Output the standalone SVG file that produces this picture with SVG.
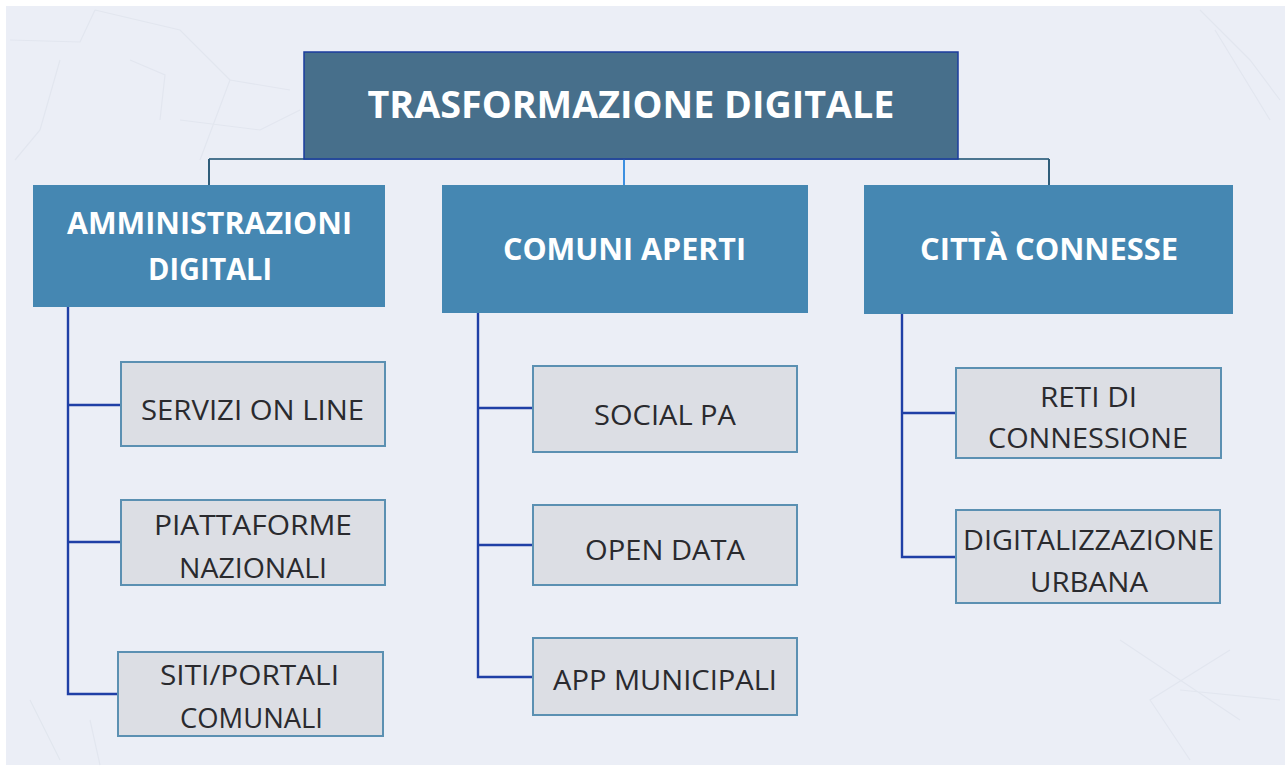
<svg xmlns="http://www.w3.org/2000/svg" width="1288" height="769" viewBox="0 0 1288 769">
<style>
.bg{fill:#ebeef6}
.top{fill:#476f8b;stroke:#1b3c9e;stroke-width:1.5}
.l2{fill:#4587b2}
.leaf{fill:#dcdee4;stroke:#5b90b2;stroke-width:2}
.t{font-family:"Open Sans","Liberation Sans",sans-serif;text-anchor:middle}
.th{fill:#ffffff;font-weight:700}
.tl{fill:#2a2a2e;font-weight:400;font-size:28px}
.c{fill:none;stroke:#1f3fa6;stroke-width:2.4}
.map{fill:none;stroke:#e2e6ef;stroke-width:1.2}
</style>
<rect x="0" y="0" width="1288" height="769" fill="#ffffff"/>
<rect class="bg" x="6" y="6" width="1279" height="759"/>
<g id="background-map">
<path class="map" d="M10 40 L80 42 L95 10 M60 60 L40 130 L15 160 M95 10 L180 30 L230 80 L200 160 M130 60 L165 75 L160 120 M180 120 L260 130 L300 110 M230 80 L290 90 M1200 10 L1250 60 L1280 100 M1215 30 L1270 120 M1230 650 L1150 700 L1190 760 M1120 640 L1240 720 M1180 690 L1280 700 M30 700 L60 760 M90 720 L100 765"/>
</g>
<g id="connectors">
<path d="M209 159 H1049" fill="none" stroke="#4b7590" stroke-width="2"/>
<path d="M209 159 V185" fill="none" stroke="#2f5d7a" stroke-width="2"/>
<path d="M1049 159 V185" fill="none" stroke="#2f5d7a" stroke-width="2"/>
<path d="M624 159 V185" fill="none" stroke="#3d8fe0" stroke-width="2"/>
<path class="c" d="M68 307 V694 H118 M68 405 H121 M68 542 H121"/>
<path class="c" d="M478 313 V677 H533 M478 408 H533 M478 545 H533"/>
<path class="c" d="M902 314 V557 H956 M902 413 H956"/>
</g>
<g id="n-root">
<rect class="top" x="304" y="52" width="654" height="107"/>
<text class="t th" x="631" y="118" font-size="38" textLength="527" lengthAdjust="spacingAndGlyphs">TRASFORMAZIONE DIGITALE</text>
</g>
<g id="n-amministrazioni">
<rect class="l2" x="33" y="185" width="352" height="122"/>
<text class="t th" x="209.5" y="234" font-size="30" textLength="285" lengthAdjust="spacingAndGlyphs">AMMINISTRAZIONI</text>
<text class="t th" x="210" y="280" font-size="30" textLength="124" lengthAdjust="spacingAndGlyphs">DIGITALI</text>
</g>
<g id="n-comuni">
<rect class="l2" x="442" y="185" width="366" height="128"/>
<text class="t th" x="624.5" y="260" font-size="30" textLength="243" lengthAdjust="spacingAndGlyphs">COMUNI APERTI</text>
</g>
<g id="n-citta">
<rect class="l2" x="864" y="185" width="369" height="129"/>
<text class="t th" x="1049" y="260" font-size="30" textLength="258" lengthAdjust="spacingAndGlyphs">CITTÀ CONNESSE</text>
</g>
<g id="n-servizi">
<rect class="leaf" x="121" y="362" width="264" height="84"/>
<text class="t tl" x="252.5" y="420" textLength="223" lengthAdjust="spacingAndGlyphs">SERVIZI ON LINE</text>
</g>
<g id="n-piattaforme">
<rect class="leaf" x="121" y="500" width="264" height="85"/>
<text class="t tl" x="253" y="535" textLength="198" lengthAdjust="spacingAndGlyphs">PIATTAFORME</text>
<text class="t tl" x="253" y="578" textLength="148" lengthAdjust="spacingAndGlyphs">NAZIONALI</text>
</g>
<g id="n-siti">
<rect class="leaf" x="118" y="652" width="265" height="84"/>
<text class="t tl" x="249.5" y="685" textLength="179" lengthAdjust="spacingAndGlyphs">SITI/PORTALI</text>
<text class="t tl" x="251.5" y="728" textLength="143" lengthAdjust="spacingAndGlyphs">COMUNALI</text>
</g>
<g id="n-social">
<rect class="leaf" x="533" y="366" width="264" height="86"/>
<text class="t tl" x="665" y="425" textLength="142" lengthAdjust="spacingAndGlyphs">SOCIAL PA</text>
</g>
<g id="n-opendata">
<rect class="leaf" x="533" y="505" width="264" height="80"/>
<text class="t tl" x="665" y="560" textLength="160" lengthAdjust="spacingAndGlyphs">OPEN DATA</text>
</g>
<g id="n-app">
<rect class="leaf" x="533" y="638" width="264" height="77"/>
<text class="t tl" x="665" y="690" textLength="224" lengthAdjust="spacingAndGlyphs">APP MUNICIPALI</text>
</g>
<g id="n-reti">
<rect class="leaf" x="956" y="368" width="265" height="90"/>
<text class="t tl" x="1088.5" y="407" textLength="97" lengthAdjust="spacingAndGlyphs">RETI DI</text>
<text class="t tl" x="1088" y="448" textLength="200" lengthAdjust="spacingAndGlyphs">CONNESSIONE</text>
</g>
<g id="n-digitalizzazione">
<rect class="leaf" x="956" y="510" width="264" height="93"/>
<text class="t tl" x="1088.5" y="550" textLength="251" lengthAdjust="spacingAndGlyphs">DIGITALIZZAZIONE</text>
<text class="t tl" x="1089" y="592" textLength="118" lengthAdjust="spacingAndGlyphs">URBANA</text>
</g>
</svg>
